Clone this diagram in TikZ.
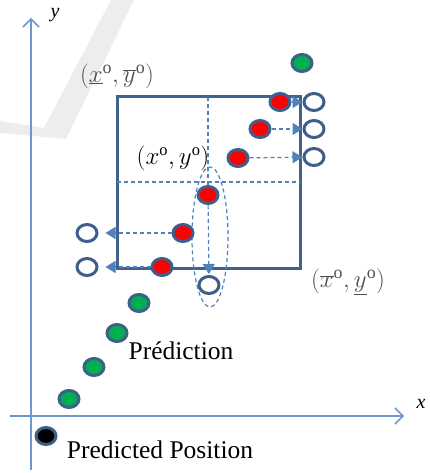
\documentclass[tikz,border=0pt]{standalone}
\usepackage{fontspec}
\setmainfont{Liberation Serif}
\usetikzlibrary{arrows.meta,shapes.geometric}
\definecolor{rim}{HTML}{3E5F8A}
\definecolor{boxblue}{HTML}{41618F}
\definecolor{dashblue}{HTML}{4F81BD}
\definecolor{axisblue}{HTML}{7096CB}
\definecolor{ptred}{HTML}{FF0000}
\definecolor{ptgreen}{HTML}{00B050}
\definecolor{wmgrey}{HTML}{EDEDED}
\definecolor{lblgrey}{HTML}{505050}
\tikzset{
  pt/.style={ellipse,draw=rim,line width=3pt,inner sep=0pt,minimum width=20pt,minimum height=17pt},
  redpt/.style={pt,fill=ptred},
  greenpt/.style={pt,fill=ptgreen},
  blackpt/.style={pt,fill=black},
  openpt/.style={pt,fill=white},
  guide/.style={dashblue,line width=1.2pt,dash pattern=on 4pt off 3pt},
  proj/.style={guide,-{Triangle[length=10pt,width=12pt]}},
  axis/.style={axisblue,line width=1.5pt,-{Straight Barb[length=8pt,width=16pt]}},
  lbl/.style={inner sep=0pt,font=\fontsize{25.5}{30}\selectfont}
}
\begin{document}
\begin{tikzpicture}[x=1pt,y=-1pt]
  \useasboundingbox (0,0) rectangle (430,473);
  % faint watermark tick
  \fill[wmgrey] (111,0) -- (134,0) -- (66,139) -- (0,133) -- (0,121) -- (44,128) -- cycle;
  % axes
  \coordinate (ybot) at (31,470);
  \coordinate (ytop) at (31,18);
  \coordinate (xleft) at (10,416);
  \coordinate (xright) at (404,416);
  \draw[axis] (ybot) -- (ytop);
  \draw[axis] (xleft) -- (xright);
  \node[lbl,font=\fontsize{20}{24}\selectfont\itshape] (ylab) at (55,15) {y};
  \node[lbl,font=\fontsize{20}{24}\selectfont\itshape] (xlab) at (421,404) {x};
  % search window with its guides
  \coordinate (boxtl) at (117,97);
  \coordinate (boxbr) at (300,268);
  \draw[boxblue,line width=3pt] (boxtl) rectangle (boxbr);
  \coordinate (midl) at (117,182);
  \coordinate (midr) at (300,182);
  \coordinate (midt) at (208,97);
  \draw[guide] (midl) -- (midr);
  \draw[guide] (210,237) ellipse [x radius=18,y radius=70];
  % measured points
  \node[redpt] (r1) at (280,102) {};
  \node[redpt] (r2) at (260,129) {};
  \node[redpt] (r3) at (238,158) {};
  \node[redpt] (r4) at (208,195) {};
  \node[redpt] (r5) at (183,233) {};
  \node[redpt] (r6) at (162,267) {};
  % projected points
  \node[openpt] (o1) at (314,102) {};
  \node[openpt] (o2) at (314,129) {};
  \node[openpt] (o3) at (314,157) {};
  \node[openpt] (o4) at (87,233) {};
  \node[openpt] (o5) at (87,267) {};
  \node[openpt] (o6) at (209,285) {};
  \draw[guide] (midt) -- (r4);
  \draw[proj] (r1) -- (o1);
  \draw[proj] (r2) -- (o2);
  \draw[proj] (r3) -- (o3);
  \draw[proj,shorten >=7pt] (r5) -- (o4);
  \draw[proj,shorten >=7pt] (r6) -- (o5);
  \draw[proj,shorten >=1pt] (r4) -- (o6);
  % predicted track
  \node[greenpt] (g1) at (302,63) {};
  \node[greenpt] (g2) at (139,303) {};
  \node[greenpt] (g3) at (117,333) {};
  \node[greenpt] (g4) at (94,367) {};
  \node[greenpt] (g5) at (69,399) {};
  \node[blackpt] (p0) at (46,436) {};
  % labels
  \node[lbl,text=lblgrey] (cornertl) at (117,76) {$\Bigl(\underline{x}^{\mathrm{o}},\overline{y}^{\mathrm{o}}\Bigr)$};
  \node[lbl,font=\fontsize{23.5}{28}\selectfont] (centre) at (173,158) {$(x^{\mathrm{o}},y^{\mathrm{o}})$};
  \node[lbl,text=lblgrey] (cornerbr) at (348,282) {$\Bigl(\overline{x}^{\mathrm{o}},\underline{y}^{\mathrm{o}}\Bigr)$};
  \node[lbl] (predlab) at (181,351) {Prédiction};
  \node[lbl] (poslab) at (160,450) {Predicted Position};
\end{tikzpicture}
\end{document}
